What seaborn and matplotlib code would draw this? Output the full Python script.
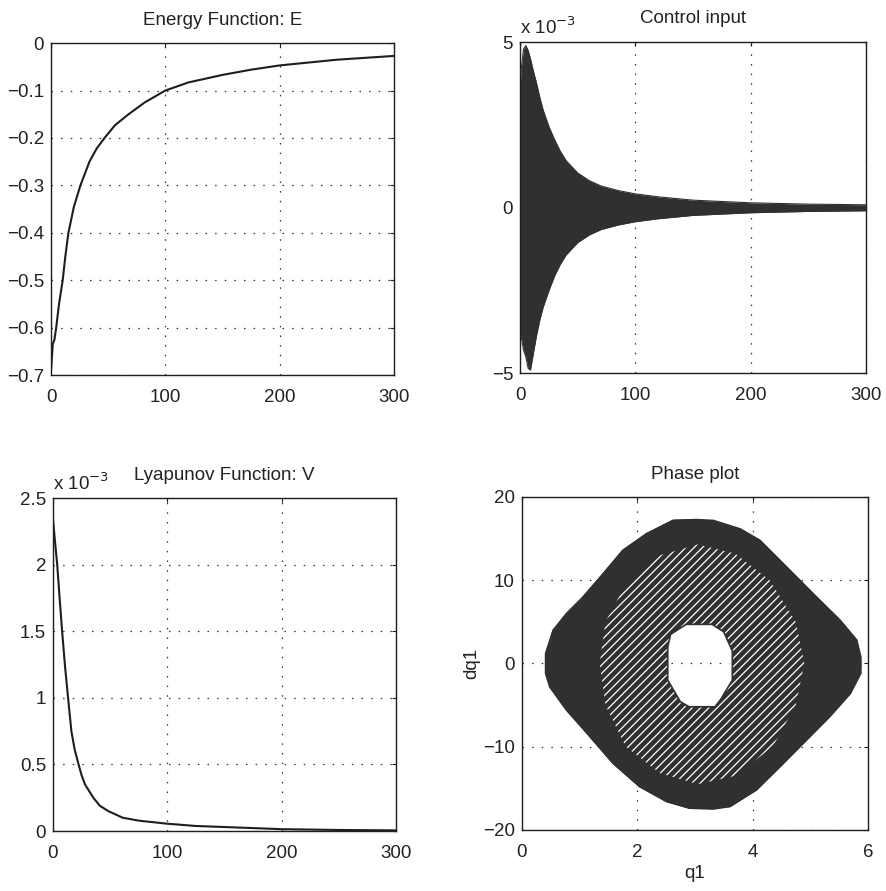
import numpy as np
import pandas as pd
import seaborn as sns
import matplotlib
matplotlib.use("Agg")
import matplotlib.pyplot as plt
from matplotlib.patches import Polygon

# ---------------- data ----------------
# Energy Function: E
e_time = [0, 1.5, 3, 4.5, 7, 10.2, 12.5, 15.2, 20, 25.7, 33.6, 40, 46.8, 56,
          67.8, 82, 100, 120, 150, 175, 200, 250, 300]
e_value = [-0.69, -0.635, -0.625, -0.60, -0.55, -0.50, -0.45, -0.40, -0.345,
           -0.30, -0.25, -0.222, -0.20, -0.173, -0.15, -0.125, -0.10, -0.083,
           -0.067, -0.056, -0.047, -0.035, -0.027]

# Control input envelope (x 1e-3)
u_time = [0, 1, 3, 5, 7, 9, 11, 14, 17, 20, 25, 30, 35, 40, 50, 60, 70, 85,
          100, 120, 150, 200, 250, 300]
u_upper = [3.7, 4.2, 4.8, 4.9, 4.75, 4.5, 4.2, 3.8, 3.35, 2.95, 2.45, 2.05,
           1.7, 1.42, 1.05, 0.82, 0.66, 0.52, 0.42, 0.33, 0.23, 0.15, 0.11, 0.09]
u_lower = [-3.8, -3.9, -4.3, -4.5, -4.85, -4.9, -4.5, -3.9, -3.4, -3.0, -2.5,
           -2.05, -1.7, -1.42, -1.05, -0.82, -0.66, -0.52, -0.42, -0.33, -0.23,
           -0.15, -0.11, -0.09]

# Lyapunov Function: V (x 1e-3)
v_time = [0, 1.8, 3.7, 5.8, 8.0, 10.5, 13.2, 16.1, 19, 22.4, 25, 28, 35.3, 41,
          48.3, 61, 75, 100, 125, 166, 200, 250, 300]
v_value = [2.34, 2.17, 2.0, 1.75, 1.5, 1.24, 1.0, 0.75, 0.61, 0.5, 0.42, 0.35,
           0.25, 0.19, 0.15, 0.10, 0.078, 0.055, 0.038, 0.025, 0.014, 0.008, 0.005]

# Phase plot: outer boundary of the trajectory cloud
outer_q = [0.41, 0.54, 0.77, 1.06, 1.41, 1.75, 2.16, 2.62, 3.03, 3.32, 3.78, 4.13,
           4.65, 5.11, 5.52, 5.81, 5.88, 5.88, 5.70, 5.34, 4.94, 4.48, 4.07, 3.61,
           3.32, 2.91, 2.51, 2.04, 1.58, 1.18, 0.77, 0.48, 0.41]
outer_dq = [1.2, 4.0, 6.0, 8.0, 10.8, 13.6, 15.6, 17.2, 17.3, 17.2, 16.2, 14.8,
            11.2, 8.0, 5.2, 2.8, 0.8, -1.2, -3.6, -6.4, -9.2, -12.4, -15.2, -17.2,
            -17.5, -17.4, -16.6, -14.8, -12.0, -8.8, -5.6, -2.8, -1.2]
# region of the inner, looser mesh of trajectories
mesh_q = [1.35, 1.45, 1.8, 2.4, 3.05, 3.7, 4.3, 4.75, 4.9, 4.75, 4.35, 3.7,
          3.05, 2.4, 1.8, 1.45]
mesh_dq = [0, 5, 9.5, 13, 14.3, 13.2, 10, 5, 0, -5, -10, -13.5, -14.5, -13.2,
           -10, -5]
# empty hole in the middle
hole_q = [2.53, 2.58, 2.85, 3.3, 3.5, 3.65, 3.65, 3.45, 3.35, 2.9, 2.75, 2.53]
hole_dq = [2.0, 3.5, 4.7, 4.7, 3.8, 1.5, -2.0, -4.3, -5.2, -5.2, -4.6, -2.0]

# ---------------- style ----------------
sns.set_style("white")
plt.rcParams["font.family"] = ["Liberation Sans", "DejaVu Sans"]
plt.rcParams["font.size"] = 13
plt.rcParams["hatch.linewidth"] = 0.9
plt.rcParams["axes.unicode_minus"] = True

INK = "#1e1e1e"
FILL = "#303030"
TXT = "#222222"
FS = 13.5

fig = plt.figure(figsize=(8.86, 8.91), dpi=100)
ax_e = fig.add_axes([0.0576, 0.579, 0.387, 0.3726])
ax_u = fig.add_axes([0.587, 0.581, 0.3905, 0.3716])
ax_v = fig.add_axes([0.0598, 0.0673, 0.387, 0.3737])
ax_p = fig.add_axes([0.589, 0.0685, 0.3905, 0.3737])


def style_axes(ax):
    for s in ax.spines.values():
        s.set_visible(True)
        s.set_color(INK)
        s.set_linewidth(1.0)
    ax.tick_params(direction="in", length=3, width=0.8, colors=INK,
                   labelsize=FS, top=True, right=True, labelcolor=TXT)
    ax.tick_params(axis="x", pad=10)
    ax.tick_params(axis="y", pad=5)
    ax.grid(True, color="#333333", linestyle=(0, (1.2, 6.5)), linewidth=0.9)
    ax.set_axisbelow(True)


# Energy
sns.lineplot(x=e_time, y=e_value, ax=ax_e, color=INK, linewidth=1.5)
ax_e.set_xlim(0, 300)
ax_e.set_ylim(-0.7, 0)
ax_e.set_xticks([0, 100, 200, 300])
ax_e.set_yticks([-0.7, -0.6, -0.5, -0.4, -0.3, -0.2, -0.1, 0])
ax_e.set_yticklabels(["\u22120.7", "\u22120.6", "\u22120.5", "\u22120.4",
                      "\u22120.3", "\u22120.2", "\u22120.1", "0"])
ax_e.set_title("Energy Function: E", fontsize=FS, pad=13, color=TXT)
style_axes(ax_e)

# Control input
ax_u.fill_between(u_time, u_lower, u_upper, color=FILL, linewidth=0)
sns.lineplot(x=u_time, y=u_upper, ax=ax_u, color=FILL, linewidth=0.8)
sns.lineplot(x=u_time, y=u_lower, ax=ax_u, color=FILL, linewidth=0.8)
ax_u.set_xlim(0, 300)
ax_u.set_ylim(-5, 5)
ax_u.set_xticks([0, 100, 200, 300])
ax_u.set_yticks([-5, 0, 5])
ax_u.set_yticklabels(["\u22125", "0", "5"])
ax_u.set_title("Control input", fontsize=FS, pad=14, color=TXT)
ax_u.text(0.0, 1.012, r"x 10$^{-3}$", transform=ax_u.transAxes,
          fontsize=FS, ha="left", va="bottom", color=TXT)
style_axes(ax_u)

# Lyapunov
sns.lineplot(x=v_time, y=v_value, ax=ax_v, color=INK, linewidth=1.5)
ax_v.set_xlim(0, 300)
ax_v.set_ylim(0, 2.5)
ax_v.set_xticks([0, 100, 200, 300])
ax_v.set_yticks([0, 0.5, 1, 1.5, 2, 2.5])
ax_v.set_yticklabels(["0", "0.5", "1", "1.5", "2", "2.5"])
ax_v.set_title("Lyapunov Function: V", fontsize=FS, pad=13, color=TXT)
ax_v.text(0.0, 1.012, r"x 10$^{-3}$", transform=ax_v.transAxes,
          fontsize=FS, ha="left", va="bottom", color=TXT)
style_axes(ax_v)

# Phase plot
ax_p.add_patch(Polygon(np.column_stack([outer_q, outer_dq]), closed=True,
                       facecolor=FILL, edgecolor=FILL, linewidth=1.0, zorder=2))
ax_p.add_patch(Polygon(np.column_stack([mesh_q, mesh_dq]), closed=True,
                       facecolor=FILL, edgecolor="white", hatch="////",
                       linewidth=0, zorder=3))
ax_p.add_patch(Polygon(np.column_stack([hole_q, hole_dq]), closed=True,
                       facecolor="white", edgecolor=FILL, linewidth=1.2, zorder=4))
sns.lineplot(x=outer_q, y=outer_dq, ax=ax_p, color=FILL, linewidth=0.8,
             sort=False, zorder=2)
ax_p.set_xlim(0, 6)
ax_p.set_ylim(-20, 20)
ax_p.set_xticks([0, 2, 4, 6])
ax_p.set_yticks([-20, -10, 0, 10, 20])
ax_p.set_yticklabels(["\u221220", "\u221210", "0", "10", "20"])
ax_p.set_title("Phase plot", fontsize=FS, pad=13, color=TXT)
ax_p.set_xlabel("q1", fontsize=FS, labelpad=3, color=TXT)
ax_p.set_ylabel("dq1", fontsize=FS, labelpad=2, color=TXT)
style_axes(ax_p)
# grid inside the hole drawn above the mesh
ax_p.plot([min(hole_q) + 0.05, max(hole_q) - 0.05], [0, 0], color="#333333",
          linestyle=(0, (1.2, 6.5)), linewidth=0.9, zorder=5)

fig.savefig("out.png", dpi=100, facecolor="white")
